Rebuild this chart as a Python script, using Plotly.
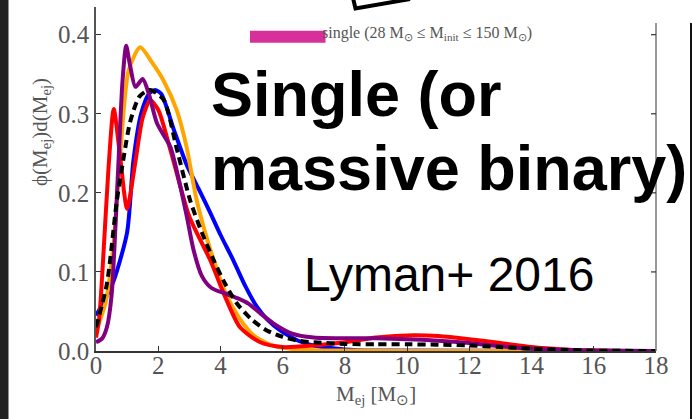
import plotly.graph_objects as go

# ---------------- data ----------------
red_x = [0, 0.1, 0.25, 0.4, 0.57, 0.75, 1.0, 1.25, 1.5, 1.74, 2.0, 2.4, 3.0, 3.67, 4.2, 4.63, 5.28, 6.0, 7.0, 8.0, 9.0, 10.2, 11.0, 12.0, 13.0, 14.0, 15.0, 16.0, 17.0, 18.0]
red_y = [0.017, 0.04, 0.13, 0.23, 0.306, 0.255, 0.18, 0.235, 0.295, 0.317, 0.305, 0.253, 0.17, 0.115, 0.064, 0.03, 0.011, 0.005, 0.007, 0.011, 0.017, 0.020, 0.019, 0.015, 0.010, 0.005, 0.002, 0.0005, 0.0, 0.0]

orange_x = [0, 0.3, 0.55, 0.8, 1.05, 1.42, 1.8, 2.17, 2.6, 2.9, 3.24, 3.7, 4.2, 4.6, 5.06, 5.6, 6.2, 7.0, 8.0, 10.0, 14.0, 18.0]
orange_y = [0.025, 0.06, 0.13, 0.26, 0.355, 0.384, 0.365, 0.342, 0.304, 0.26, 0.19, 0.125, 0.07, 0.042, 0.02, 0.008, 0.003, 0.001, 0.0005, 0.0, 0.0, 0.0]

blue_x = [0, 0.3, 0.57, 1.0, 1.2, 1.45, 1.7, 1.9, 2.1, 2.5, 2.92, 3.3, 3.67, 4.0, 4.41, 4.8, 5.17, 5.5, 5.92, 6.5, 7.0, 8.0, 9.0, 18.0]
blue_y = [0.045, 0.066, 0.089, 0.15, 0.24, 0.3, 0.325, 0.33, 0.325, 0.28, 0.235, 0.205, 0.175, 0.147, 0.115, 0.082, 0.056, 0.04, 0.026, 0.013, 0.007, 0.002, 0.0005, 0.0]

purple_x = [0, 0.2, 0.35, 0.5, 0.7, 0.85, 0.97, 1.1, 1.27, 1.5, 1.7, 1.96, 2.39, 2.7, 2.92, 3.14, 3.4, 3.7, 4.2, 4.6, 4.9, 5.3, 5.7, 6.3, 7.0, 8.0, 9.0, 10.0, 11.0, 12.0, 13.0, 14.0, 15.0, 16.0, 18.0]
purple_y = [0.011, 0.016, 0.03, 0.07, 0.22, 0.34, 0.386, 0.36, 0.334, 0.344, 0.325, 0.288, 0.258, 0.21, 0.17, 0.127, 0.095, 0.08, 0.072, 0.066, 0.06, 0.047, 0.035, 0.022, 0.017, 0.016, 0.016, 0.015, 0.013, 0.01, 0.006, 0.003, 0.0015, 0.0005, 0.0]

black_x = [0, 0.35, 0.67, 0.89, 1.1, 1.4, 1.74, 2.17, 2.6, 3.03, 3.4, 3.78, 4.15, 4.53, 5.0, 5.49, 6.0, 6.5, 7.0, 8.0, 9.0, 10.0, 11.0, 12.0, 13.0, 14.0, 15.0, 16.0, 18.0]
black_y = [0.03, 0.085, 0.19, 0.245, 0.29, 0.322, 0.33, 0.318, 0.255, 0.19, 0.15, 0.115, 0.085, 0.06, 0.04, 0.026, 0.018, 0.013, 0.011, 0.009, 0.0085, 0.0085, 0.008, 0.007, 0.005, 0.003, 0.0015, 0.0005, 0.0]

x_ticks = [0, 2, 4, 6, 8, 10, 12, 14, 16, 18]
y_ticks = [0.0, 0.1, 0.2, 0.3, 0.4]

W, H = 692, 419
ML, MR, MT, MB = 96, 36, 7, 68
PW, PH = W - ML - MR, H - MT - MB


def px(x):
    return (x - ML) / PW


def py(y):
    return (H - MB - y) / PH


SERIF = "Liberation Serif, Times New Roman, serif"
SANS = "Liberation Sans, Arial, sans-serif"

fig = go.Figure()

series = [
    (blue_x, blue_y, "#0000ff", "solid"),
    (orange_x, orange_y, "#ffa500", "solid"),
    (red_x, red_y, "#ff0000", "solid"),
    (purple_x, purple_y, "#800080", "solid"),
    (black_x, black_y, "#000000", "8px,5px"),
]
for xs, ys, col, dash in series:
    fig.add_trace(go.Scatter(x=xs, y=ys, mode="lines",
                             line=dict(color=col, width=4, dash=dash, shape="spline", smoothing=0.7),
                             showlegend=False, hoverinfo="skip"))

fig.update_xaxes(range=[0, 18], tickvals=x_ticks, ticks="inside", ticklen=5, tickwidth=1.2,
                 tickcolor="#333", showline=True, linecolor="#333", linewidth=1.5,
                 showgrid=False, zeroline=False, ticklabelstandoff=-9,
                 tickfont=dict(family=SERIF, size=25, color="#555"))
fig.update_yaxes(range=[0, 0.435], tickvals=y_ticks, tickformat=".1f", ticks="inside", ticklen=5,
                 tickwidth=1.2, tickcolor="#333", showline=True, linecolor="#555", linewidth=1.5,
                 showgrid=False, zeroline=False,
                 tickfont=dict(family=SERIF, size=25, color="#555"))

shapes = []
# right spine (starts a little below the top)
shapes.append(dict(type="line", xref="paper", yref="paper", x0=1, x1=1, y0=0, y1=py(23),
                   line=dict(color="#777", width=1.5)))
# right-side ticks
for t in y_ticks[1:]:
    shapes.append(dict(type="line", xref="x", yref="y", xsizemode="pixel", xanchor=18,
                       x0=-5, x1=0, y0=t, y1=t, line=dict(color="#333", width=1.2)))
# dark bar at left edge
shapes.append(dict(type="rect", xref="paper", yref="paper", x0=px(-2), x1=px(8.5), y0=py(425), y1=py(-5),
                   fillcolor="#222222", line=dict(width=0)))
# black frame line at right edge
shapes.append(dict(type="line", xref="paper", yref="paper", x0=px(691), x1=px(691), y0=py(23), y1=py(425),
                   line=dict(color="#111", width=2)))
# fragment of a rotated box at the top
shapes.append(dict(type="path", xref="paper", yref="paper",
                   path=f"M {px(353)} {py(-2)} L {px(355.5)} {py(8.5)} L {px(410)} {py(-1)}",
                   line=dict(color="#000", width=4)))
# magenta legend swatch
shapes.append(dict(type="rect", xref="paper", yref="paper", x0=px(250), x1=px(325.5), y0=py(42.7), y1=py(30.7),
                   fillcolor="#d8309a", line=dict(width=0)))

P = dict(xref="paper", yref="paper", showarrow=False)
annotations = [
    dict(text="single (28 M<sub>⊙</sub> ≤ M<sub>init</sub> ≤ 150 M<sub>⊙</sub>)", x=px(320), y=py(33),
         xanchor="left", yanchor="middle", font=dict(family=SERIF, size=16, color="#555"), **P),
    dict(text="<b>Single (or</b>", x=px(209), y=py(94), xanchor="left", yanchor="middle",
         font=dict(family=SANS, size=63, color="#000"), **P),
    dict(text="<b>massive binary)</b>", x=px(209), y=py(168), xanchor="left", yanchor="middle",
         font=dict(family=SANS, size=63, color="#000"), **P),
    dict(text="Lyman+ 2016", x=px(302), y=py(274), xanchor="left", yanchor="middle",
         font=dict(family=SANS, size=48, color="#000"), **P),
    dict(text="ϕ(M<sub>ej</sub>)d(M<sub>ej</sub>)", x=px(41), y=py(132), xanchor="center", yanchor="middle",
         textangle=-90, font=dict(family=SERIF, size=21, color="#555"), **P),
    dict(text="M<sub>ej</sub> [M<sub>⊙</sub>]", x=px(376), y=py(395), xanchor="center", yanchor="middle",
         font=dict(family=SERIF, size=21, color="#555"), **P),
]

fig.update_layout(width=W, height=H, autosize=False,
                  margin=dict(l=ML, r=MR, t=MT, b=MB),
                  paper_bgcolor="white", plot_bgcolor="white",
                  shapes=shapes, annotations=annotations)

fig.write_html("out.html", config={"displayModeBar": False},
               post_script="document.body.style.margin='0';document.body.style.overflow='hidden';")
